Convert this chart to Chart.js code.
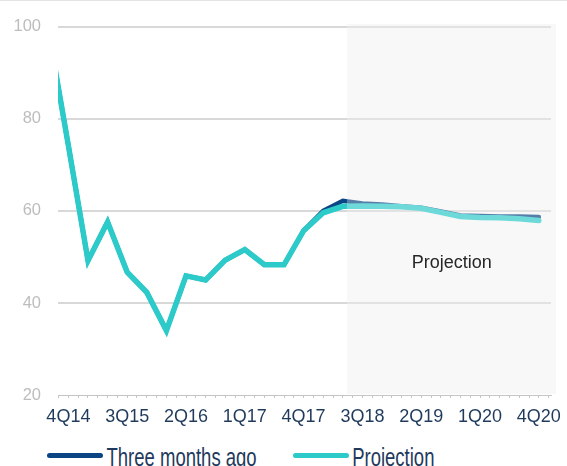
<!DOCTYPE html>
<html>
<head>
<meta charset="utf-8">
<script src="https://cdn.jsdelivr.net/npm/chart.js@4.4.1/dist/chart.umd.min.js"></script>
<style>
  body { margin: 0; width: 567px; height: 466px; overflow: hidden; background: #fff; position: relative; font-family: "Liberation Sans", Arial, sans-serif; }
  #topLine { position: absolute; left: 0; top: 0; width: 567px; height: 1px; background: #e4e4e4; }
  #wrap { position: absolute; left: 0; top: 0; width: 567px; height: 430px; }
  #legend { position: absolute; left: 47px; top: 442px; display: flex; gap: 36px; font-size: 18.5px; color: #1f3a5c; white-space: nowrap; }
  .item { display: flex; align-items: center; }
  .swatch { width: 56px; height: 5.5px; border-radius: 3px; margin-right: 3.5px; position: relative; top: 2.4px; }
  .label { display: inline-block; transform: scaleY(1.4); transform-origin: 0 0; }
</style>
</head>
<body>
<div id="topLine"></div>
<div id="wrap"><canvas id="chart"></canvas></div>
<div id="legend"></div>
<script>
const quarters = ['3Q14','4Q14','1Q15','2Q15','3Q15','4Q15','1Q16','2Q16','3Q16','4Q16','1Q17','2Q17','3Q17',
                  '4Q17','1Q18','2Q18','3Q18','4Q18','1Q19','2Q19','3Q19','4Q19','1Q20','2Q20','3Q20','4Q20'];
const threeMonthsAgo = [98.8, 74.2, 49.2, 57.6, 46.7, 42.3, 34.0, 45.9, 45.0, 49.3, 51.6, 48.3, 48.3,
                        55.7, 60.0, 62.2, 61.6, 61.4, 61.0, 60.7, 59.9, 59.0, 58.9, 58.8, 58.8, 58.7];
const projection = [98.8, 74.2, 49.2, 57.6, 46.7, 42.3, 34.0, 45.9, 45.0, 49.3, 51.6, 48.3, 48.3,
                    55.7, 59.6, 61.0, 61.1, 61.0, 60.9, 60.6, 59.7, 58.8, 58.6, 58.5, 58.3, 57.9];
const yTicks = [20, 40, 60, 80, 100];
const seriesNames = ['Three months ago', 'Projection'];
const seriesColors = ['#0b4584', '#2dcaca'];

// shaded projection period starts a little after 2Q18, label sits inside it
const projectionStart = 15.21;
const projectionLabel = 'Projection';
const projectionLabelAt = { x: 18.52, y: 47.5 };

const toPoints = (values) => values.map((v, i) => ({ x: i, y: v }));

const projectionShade = {
    id: 'projectionShade',
    beforeDraw(chart) {
        const { ctx, chartArea, scales } = chart;
        const x0 = scales.x.getPixelForValue(projectionStart);
        ctx.save();
        ctx.fillStyle = '#f8f8f8';
        ctx.fillRect(x0, chartArea.top - 3, chartArea.right + 5 - x0, chartArea.bottom - chartArea.top + 2);
        ctx.restore();
    },
    afterDatasetsDraw(chart) {
        const { ctx, chartArea, scales } = chart;
        const x0 = scales.x.getPixelForValue(projectionStart);
        ctx.save();
        ctx.fillStyle = 'rgba(248,248,248,0.32)';
        ctx.fillRect(x0, chartArea.top - 3, chartArea.right + 5 - x0, chartArea.bottom - chartArea.top + 1);
        ctx.restore();
    },
    afterDraw(chart) {
        const { ctx, scales } = chart;
        ctx.save();
        ctx.font = '18px "Liberation Sans", Arial, sans-serif';
        ctx.fillStyle = '#262626';
        ctx.textAlign = 'left';
        ctx.textBaseline = 'alphabetic';
        ctx.fillText(projectionLabel, scales.x.getPixelForValue(projectionLabelAt.x), scales.y.getPixelForValue(projectionLabelAt.y));
        ctx.restore();
    }
};

const ctx = document.getElementById('chart');

new Chart(ctx, {
    type: 'line',
    data: {
        datasets: [
            {
                label: seriesNames[0],
                data: toPoints(threeMonthsAgo),
                borderColor: seriesColors[0],
                backgroundColor: seriesColors[0],
                borderWidth: 4.5,
                pointRadius: 0,
                borderCapStyle: 'round',
                clip: 0,
                order: 1
            },
            {
                label: seriesNames[1],
                data: toPoints(projection),
                borderColor: seriesColors[1],
                backgroundColor: seriesColors[1],
                borderWidth: 5.5,
                pointRadius: 0,
                borderCapStyle: 'round',
                clip: 0,
                order: 0
            }
        ]
    },
    options: {
        responsive: true,
        maintainAspectRatio: false,
        animation: false,
        layout: { padding: { top: 25, right: 16, left: 0, bottom: 0 } },
        plugins: {
            legend: { display: false },
            tooltip: { enabled: false }
        },
        scales: {
            x: {
                type: 'linear',
                min: 0.47,
                max: 25.62,
                afterBuildTicks: (scale) => {
                    const ticks = [];
                    for (let v = 0.5; v <= 25.5; v += 0.5) ticks.push({ value: v });
                    scale.ticks = ticks;
                },
                afterFit: (scale) => { scale.height = 35; },
                ticks: {
                    autoSkip: false,
                    maxRotation: 0,
                    padding: 8,
                    color: '#1f3a5c',
                    font: { family: '"Liberation Sans", Arial, sans-serif', size: 18 },
                    callback: (v) => (Number.isInteger(v) && (v - 1) % 3 === 0) ? quarters[v] : ''
                },
                grid: {
                    drawOnChartArea: false,
                    drawTicks: true,
                    tickLength: 3,
                    color: '#c4c4c4',
                    lineWidth: 1
                },
                border: { display: true, color: '#c4c4c4', width: 1, dash: [4, 3] }
            },
            y: {
                min: yTicks[0],
                max: yTicks[yTicks.length - 1],
                afterBuildTicks: (scale) => { scale.ticks = yTicks.map(v => ({ value: v })); },
                afterFit: (scale) => { scale.width = 58; },
                ticks: {
                    padding: 17,
                    color: '#bdbdbd',
                    font: { family: '"Liberation Sans", Arial, sans-serif', size: 16.5 }
                },
                grid: {
                    drawTicks: false,
                    lineWidth: 2,
                    color: (c) => c.tick && c.tick.value === yTicks[0] ? 'rgba(0,0,0,0)' : '#d8d8d8'
                },
                border: { display: false }
            }
        }
    },
    plugins: [projectionShade]
});

const legend = document.getElementById('legend');
seriesNames.forEach((name, i) => {
    const item = document.createElement('div');
    item.className = 'item';
    const sw = document.createElement('span');
    sw.className = 'swatch';
    sw.style.background = seriesColors[i];
    const txt = document.createElement('span');
    txt.className = 'label';
    txt.textContent = name;
    item.appendChild(sw);
    item.appendChild(txt);
    legend.appendChild(item);
});
</script>
</body>
</html>
